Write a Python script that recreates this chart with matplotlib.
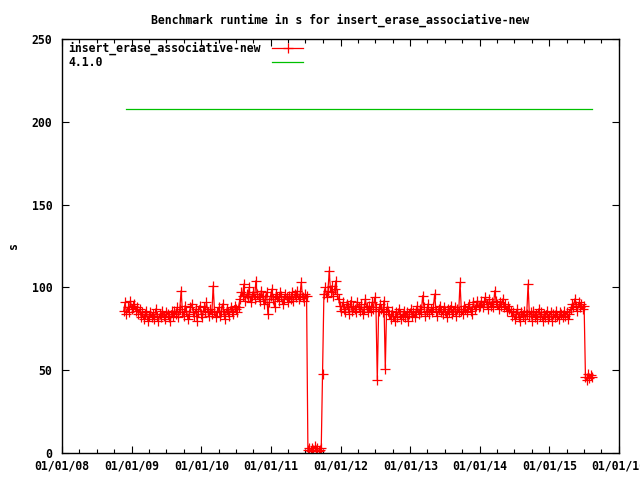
import numpy as np
import pandas as pd
import matplotlib
matplotlib.use("Agg")
import matplotlib.pyplot as plt
import matplotlib.dates as mdates

# weekly runtime samples (s), grouped by period
runtime_late2008 = [86, 91, 84, 88, 85, 92, 87, 89, 90, 86, 88, 84, 87]
runtime_2009 = [82, 85, 81, 84, 86, 80, 83, 85, 82, 84, 81, 87, 83, 80, 84, 82, 86, 83, 81, 85,
                84, 82, 80, 86, 83]
runtime_2009_2010 = [86, 84, 88, 82, 87, 98, 85, 83, 89, 86, 81, 84, 88, 90, 85, 83, 87, 80, 86, 89,
                     84, 82, 88, 86, 91, 85, 83, 87, 84, 101, 86, 82, 85, 88, 83, 86, 90, 84, 81, 87,
                     85, 83, 88, 86, 84, 89, 87, 85, 88]
runtime_2010_2011 = [93, 97, 95, 102, 92, 96, 94, 100, 91, 95, 97, 93, 104, 96, 94, 92, 98, 95, 90, 93,
                     97, 84, 91, 95, 99, 93, 88, 96, 94, 92, 97, 95, 90, 93, 96, 94, 91, 95, 93, 97,
                     92, 96, 94, 98, 93, 95, 103, 94, 92, 96, 95]
runtime_mid2011_broken = [2, 3, 1, 3, 2, 4, 2, 3, 1, 2, 3, 48]
runtime_late2011 = [96, 100, 94, 98, 110, 97, 101, 95, 99, 104, 96, 93]
runtime_2012 = [89, 86, 91, 87, 85, 90, 88, 84, 92, 86, 89, 87, 85, 91, 88, 86, 90, 84, 87, 93,
                88, 85, 89, 86, 91, 87, 94, 88, 44, 86, 90, 87, 85, 92, 51, 88, 86,
                84, 81, 86, 83, 80, 85, 82, 87, 84, 81, 83, 86, 82, 85, 80, 84, 87, 83, 85, 82]
runtime_2013 = [86, 89, 84, 87, 85, 95, 88, 83, 86, 90, 84, 87, 85, 88, 96, 86, 83, 87, 89, 85,
                84, 88, 86, 82, 87, 85, 89, 84, 86, 88, 83, 87, 85, 103, 86, 84, 89, 87, 85, 88,
                90, 86, 84, 91, 87, 89, 92, 88]
runtime_2014 = [89, 92, 88, 91, 94, 90, 87, 93, 89, 91, 88, 98, 92, 90, 87, 91, 89, 93, 88, 90,
                86, 89, 87,
                86, 83, 85, 81, 84, 87, 82, 80, 85, 83, 86, 81, 84, 102, 83, 85, 80, 86, 82, 84,
                81, 87, 83, 85, 80, 84, 82, 86, 81, 83, 85, 80, 84, 82, 86, 83, 81, 85, 84, 82,
                86, 83, 85, 81, 84]
runtime_2015 = [87, 90, 88, 93, 89, 86, 91, 88, 90, 87, 89, 46, 44, 48, 45, 47, 46]

runtime = (runtime_late2008 + runtime_2009 + runtime_2009_2010 + runtime_2010_2011
           + runtime_mid2011_broken + runtime_late2011 + runtime_2012 + runtime_2013
           + runtime_2014 + runtime_2015)
first_run, last_run = "2008-11-20", "2015-08-13"
run_label = "insert_erase_associative-new"

ref_label = "4.1.0"
ref_runtime = [207.5, 207.5]
ref_dates = pd.to_datetime(["2008-12-02", "2015-08-13"])

run_dates = pd.date_range(first_run, last_run, periods=len(runtime))

RED, GREEN = "#ff0000", "#00c000"
FS = 8.3
plt.rcParams["font.family"] = "DejaVu Sans Mono"
plt.rcParams["font.weight"] = "bold"
plt.rcParams["font.size"] = FS

fig = plt.figure(figsize=(6.4, 4.8), dpi=100)
ax = fig.add_axes([62 / 640, 27 / 480, 557 / 640, 414 / 480])

ax.plot(run_dates, runtime, color=RED, lw=0.9, marker="+", ms=7, mew=0.9)
ax.plot(ref_dates, ref_runtime, color=GREEN, lw=0.9)

ax.set_xlim(pd.Timestamp("2008-01-01"), pd.Timestamp("2016-01-01"))
ax.set_ylim(0, 250)
ax.set_yticks(np.arange(0, 251, 50))

ax.xaxis.set_major_locator(mdates.YearLocator())
ax.xaxis.set_minor_locator(mdates.MonthLocator(bymonth=(4, 7, 10)))
ax.xaxis.set_major_formatter(mdates.DateFormatter("%m/%d/%y"))

ax.tick_params(which="both", direction="in", top=True, right=True, width=0.8, labelsize=FS)
ax.tick_params(which="major", length=5)
ax.tick_params(which="minor", length=3)
ax.tick_params(axis="y", pad=7)
ax.tick_params(axis="x", pad=5)
for sp in ax.spines.values():
    sp.set_linewidth(1.0)

ax.set_title("Benchmark runtime in s for insert_erase_associative-new", fontsize=FS,
             fontweight="bold", pad=11)
ax.set_ylabel("s", fontsize=FS, fontweight="bold")
ax.yaxis.set_label_coords(-0.076, 0.5)

# gnuplot-style key: left-aligned labels, samples in a column to the right
key_rows = [(run_label, RED, "+"), (ref_label, GREEN, None)]
for k, (lab, col, mk) in enumerate(key_rows):
    ky = 0.978 - k * 0.034
    ax.text(0.011, ky, lab, transform=ax.transAxes, ha="left", va="center",
            fontsize=FS, fontweight="bold")
    ax.plot([0.377, 0.433], [ky, ky], transform=ax.transAxes, color=col, lw=0.9)
    if mk:
        ax.plot([0.405], [ky], transform=ax.transAxes, color=col, marker=mk, ms=7, mew=0.9)

fig.savefig("out.png", dpi=100)
